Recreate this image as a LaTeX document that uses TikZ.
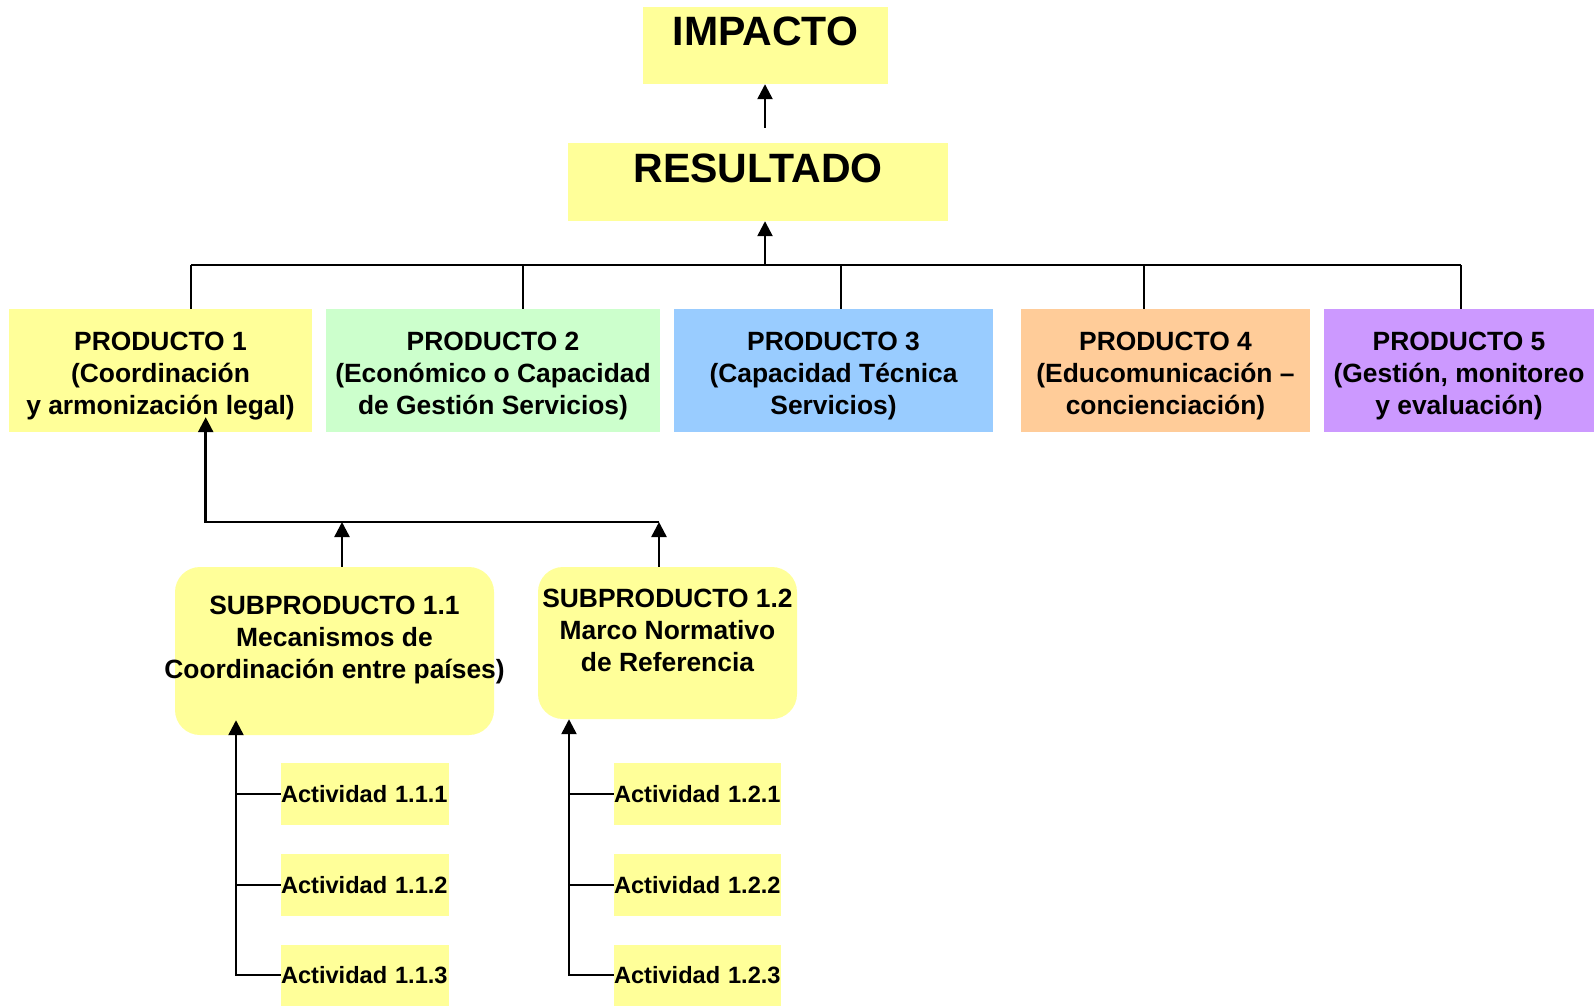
\documentclass[tikz,border=0pt]{standalone}
\usepackage{fontspec}
\setmainfont{Liberation Sans}
\usetikzlibrary{arrows.meta}
\definecolor{cyel}{HTML}{FFFF99}
\definecolor{cgrn}{HTML}{CCFFCC}
\definecolor{cblu}{HTML}{99CCFF}
\definecolor{corg}{HTML}{FFCC99}
\definecolor{cpur}{HTML}{CC99FF}
\newcommand{\toppad}{\rule{0pt}{29.3pt}}
\tikzset{
  bigbox/.style={fill=cyel, inner sep=0pt, font=\fontsize{41}{49}\selectfont\bfseries},
  prodbox/.style={inner sep=0pt, minimum height=123pt, align=center,
    font=\fontsize{26.4}{32}\selectfont\bfseries},
  subbox/.style={fill=cyel, rounded corners=25pt, inner sep=0pt},
  subtext/.style={inner sep=0pt, align=center, font=\fontsize{26.4}{32}\selectfont\bfseries},
  actbox/.style={fill=cyel, inner sep=0pt, text width=168pt, minimum height=62pt, align=left,
    font=\fontsize{23.6}{28}\selectfont\bfseries},
  conn/.style={line width=2.5pt, black},
  arr/.style={conn, -{Triangle[length=15pt,width=15pt]}}
}
\begin{document}
\begin{tikzpicture}[x=1pt,y=-1pt]
\useasboundingbox (0,0) rectangle (1594,1005);
% top boxes
\node[bigbox, minimum width=245pt, text height=38pt, text depth=39pt] (impacto) at (765.5,45.5) {IMPACTO};
\node[bigbox, minimum width=380pt, text height=39pt, text depth=39pt] (resultado) at (758,182) {RESULTADO};
% products
\node[prodbox, fill=cyel, minimum width=303pt] (p1) at (160.5,370.5) {\toppad PRODUCTO 1\\(Coordinación\\y armonización legal)};
\node[prodbox, fill=cgrn, minimum width=334pt] (p2) at (493,370.5) {\toppad PRODUCTO 2\\(Económico o Capacidad\\de Gestión Servicios)};
\node[prodbox, fill=cblu, minimum width=319pt] (p3) at (833.5,370.5) {\toppad PRODUCTO 3\\(Capacidad Técnica\\Servicios)};
\node[prodbox, fill=corg, minimum width=289pt] (p4) at (1165.5,370.5) {\toppad PRODUCTO 4\\(Educomunicación –\\concienciación)};
\node[prodbox, fill=cpur, minimum width=270pt] (p5) at (1459,370.5) {\toppad PRODUCTO 5\\(Gestión, monitoreo\\y evaluación)};
% subproducts
\node[subbox, minimum width=319pt, minimum height=168pt] (sub11) at (334.5,651) {};
\node[subtext] (sub11t) at (334.5,640) {SUBPRODUCTO 1.1\\Mecanismos de\\Coordinación entre países)};
\node[subbox, minimum width=259pt, minimum height=152pt] (sub12) at (667.5,643) {};
\node[subtext] (sub12t) at (667.5,630) {SUBPRODUCTO 1.2\\Marco Normativo\\de Referencia};
% activities
\node[actbox] (a111) at (365,794) {Actividad 1.1.1};
\node[actbox] (a112) at (365,885) {Actividad 1.1.2};
\node[actbox, minimum height=61pt] (a113) at (365,975) {Actividad 1.1.3};
\node[actbox, text width=167pt] (a121) at (697.5,794) {Actividad 1.2.1};
\node[actbox, text width=167pt] (a122) at (697.5,885) {Actividad 1.2.2};
\node[actbox, text width=167pt, minimum height=61pt] (a123) at (697.5,975) {Actividad 1.2.3};
% top connectors
\coordinate (busM) at (765,265);
\coordinate (d1) at (191,265);
\coordinate (d2) at (523,265);
\coordinate (d3) at (841,265);
\coordinate (d4) at (1144,265);
\coordinate (d5) at (1461,265);
\draw[conn] (d1) -- (d5);
\draw[conn] (d1) -- (d1 |- p1.north);
\draw[conn] (d2) -- (d2 |- p2.north);
\draw[conn] (d3) -- (d3 |- p3.north);
\draw[conn] (d4) -- (d4 |- p4.north);
\draw[conn] (d5) -- (d5 |- p5.north);
\draw[arr] (busM) -- (busM |- resultado.south);
\draw[arr] ([yshift=15pt]busM |- resultado.north) -- (busM |- impacto.south);
% subproduct connectors
\coordinate (sbL) at (205.7,522);
\coordinate (sbM) at (342,522);
\coordinate (sbR) at (659,522);
\draw[arr] (sbR) -- (sbL) -- ([yshift=15pt]sbL |- p1.south);
\draw[arr] (sbM |- sub11.north) -- (sbM);
\draw[arr] (sbR |- sub12.north) -- (sbR);
% activity connectors
\coordinate (v1) at (236,800);
\coordinate (v2) at (569,800);
\draw[arr] (a113.west) -| ([yshift=15pt]v1 |- sub11.south);
\draw[conn] (a111.west) -- (a111.west -| v1);
\draw[conn] (a112.west) -- (a112.west -| v1);
\draw[arr] (a123.west) -| (v2 |- sub12.south);
\draw[conn] (a121.west) -- (a121.west -| v2);
\draw[conn] (a122.west) -- (a122.west -| v2);
\end{tikzpicture}
\end{document}
